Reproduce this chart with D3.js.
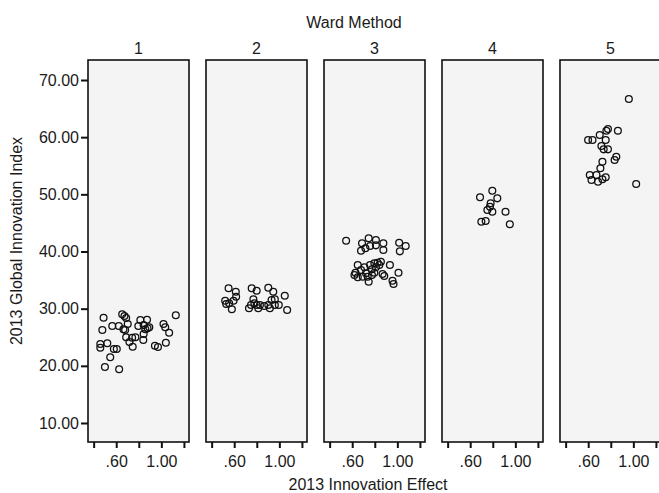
<!DOCTYPE html>
<html>
<head>
<meta charset="utf-8">
<script src="https://cdnjs.cloudflare.com/ajax/libs/d3/7.8.5/d3.min.js"></script>
<style>
  body { margin: 0; background: #fff; }
  text { font-family: "Liberation Sans", Arial, sans-serif; fill: #1a1a1a; }
</style>
</head>
<body>
<div id="scatter"></div>
<script>
// ward method clusters (facet labels)
var wardLabels = ["1", "2", "3", "4", "5"];

// [2013 Innovation Effect, 2013 Global Innovation Index] per cluster
var ward1 = [
  [0.488, 28.42], [0.477, 26.27], [0.459, 23.82], [0.459, 23.17], [0.521, 23.94],
  [0.565, 26.97], [0.547, 21.49], [0.500, 19.80], [0.579, 22.94], [0.605, 22.94],
  [0.626, 19.39], [0.623, 26.97], [0.653, 29.01], [0.673, 28.72], [0.688, 28.37],
  [0.702, 27.32], [0.664, 26.39], [0.679, 26.27], [0.688, 24.99], [0.717, 24.17],
  [0.746, 23.35], [0.741, 24.92], [0.770, 24.99], [0.796, 26.97], [0.814, 28.02],
  [0.843, 27.14], [0.873, 28.07], [0.858, 26.39], [0.878, 26.56], [0.893, 26.74],
  [0.843, 25.57], [0.840, 24.52], [0.943, 23.52], [0.970, 23.29], [1.019, 27.32],
  [1.034, 26.74], [1.069, 25.79], [1.040, 24.05], [1.128, 28.84]
];
var ward2 = [
  [0.550, 33.56], [0.614, 32.97], [0.617, 32.09], [0.520, 31.39], [0.529, 30.82],
  [0.555, 30.94], [0.594, 31.39], [0.579, 29.89], [0.755, 33.56], [0.799, 33.14],
  [0.770, 31.64], [0.779, 30.94], [0.749, 30.64], [0.731, 30.06], [0.799, 30.64],
  [0.828, 30.64], [0.813, 30.06], [0.902, 33.67], [0.946, 32.97], [0.960, 31.64],
  [0.931, 31.52], [0.902, 30.64], [0.916, 30.06], [0.995, 30.64], [0.960, 30.64],
  [1.048, 32.27], [1.069, 29.77], [0.866, 30.47]
];
var ward3 = [
  [0.546, 41.89], [0.687, 41.43], [0.678, 40.14], [0.717, 40.56], [0.746, 42.31],
  [0.758, 40.96], [0.810, 42.01], [0.810, 41.08], [0.876, 41.43], [0.876, 40.26],
  [1.016, 41.54], [1.074, 40.96], [1.022, 40.03], [0.649, 37.64], [0.629, 36.29],
  [0.620, 35.89], [0.649, 35.49], [0.678, 36.76], [0.708, 37.24], [0.722, 36.19],
  [0.693, 35.59], [0.746, 34.72], [0.758, 37.64], [0.775, 36.88], [0.796, 37.93],
  [0.810, 37.24], [0.825, 38.04], [0.854, 38.21], [0.840, 37.64], [0.796, 36.29],
  [0.775, 35.89], [0.869, 36.06], [0.884, 35.71], [0.934, 37.64], [0.957, 34.89],
  [0.966, 34.31], [1.010, 36.29], [0.737, 35.59]
];
var ward4 = [
  [0.796, 50.63], [0.687, 49.48], [0.840, 49.30], [0.781, 48.43], [0.775, 47.83],
  [0.752, 47.26], [0.796, 46.96], [0.913, 46.96], [0.699, 45.21], [0.737, 45.33],
  [0.951, 44.76]
];
var ward5 = [
  [0.960, 66.67], [0.863, 61.12], [0.775, 61.43], [0.761, 61.13], [0.702, 60.38],
  [0.599, 59.50], [0.638, 59.50], [0.755, 59.50], [0.717, 58.45], [0.737, 57.87],
  [0.775, 57.87], [0.849, 56.58], [0.834, 56.00], [0.726, 55.71], [0.708, 54.55],
  [0.614, 53.38], [0.629, 52.50], [0.673, 53.38], [0.687, 52.21], [0.755, 52.98],
  [0.726, 52.63], [1.025, 51.81]
];

// tick values
var xTicks = [0.4, 0.6, 0.8, 1.0, 1.2];
var xTickLabels = ["", ".60", "", "1.00", ""];
var yTicks = [10, 20, 30, 40, 50, 60, 70];

var clusters = [ward1, ward2, ward3, ward4, ward5];

var svgWidth = 659;
var svgHeight = 493;

// panel area
var panelTop = 60;
var panelBottom = 442;

var svg = d3.select("#scatter")
  .append("svg")
  .attr("width", svgWidth)
  .attr("height", svgHeight);

// one band per cluster
var facetScale = d3.scaleBand()
  .domain(wardLabels)
  .range([88, 661])
  .paddingInner(0.144);

var yScale = d3.scaleLinear()
  .domain([10, 70])
  .range([423, 80]);

// titles
svg.append("text")
  .attr("x", 354)
  .attr("y", 28)
  .attr("text-anchor", "middle")
  .style("font-size", "16px")
  .text("Ward Method");

svg.append("text")
  .attr("x", 368)
  .attr("y", 490)
  .attr("text-anchor", "middle")
  .style("font-size", "16px")
  .text("2013 Innovation Effect");

svg.append("text")
  .attr("transform", "translate(22, 241) rotate(-90)")
  .attr("text-anchor", "middle")
  .style("font-size", "16px")
  .text("2013 Global Innovation Index");

// y axis on the first panel
var yAxis = d3.axisLeft(yScale)
  .tickValues(yTicks)
  .tickFormat(d3.format(".2f"))
  .tickSize(7)
  .tickPadding(2);

var yAxisGroup = svg.append("g")
  .attr("transform", `translate(${facetScale("1")}, 0)`)
  .call(yAxis);

yAxisGroup.select(".domain").remove();
yAxisGroup.selectAll("line").attr("stroke", "#111").attr("stroke-width", 2);
yAxisGroup.selectAll("text").style("font-size", "16px").attr("fill", "#1a1a1a");

// draw each panel
wardLabels.forEach(function(label, i) {
  var left = facetScale(label);
  var panel = svg.append("g");

  var xScale = d3.scaleLinear()
    .domain([0.35, 1.245])
    .range([left, left + facetScale.bandwidth()]);

  panel.append("rect")
    .attr("x", left)
    .attr("y", panelTop)
    .attr("width", facetScale.bandwidth())
    .attr("height", panelBottom - panelTop)
    .attr("fill", "#f4f4f4")
    .attr("stroke", "#111")
    .attr("stroke-width", 1.6);

  // facet label
  panel.append("text")
    .attr("x", left + facetScale.bandwidth() / 2)
    .attr("y", 54)
    .attr("text-anchor", "middle")
    .style("font-size", "16px")
    .text(label);

  var xAxis = d3.axisBottom(xScale)
    .tickValues(xTicks)
    .tickFormat(function(d, j) { return xTickLabels[j]; })
    .tickSize(6)
    .tickPadding(8);

  var xAxisGroup = panel.append("g")
    .attr("transform", `translate(0, ${panelBottom})`)
    .call(xAxis);

  xAxisGroup.select(".domain").remove();
  xAxisGroup.selectAll("line").attr("stroke", "#111").attr("stroke-width", 2);
  xAxisGroup.selectAll("text").style("font-size", "16px").attr("fill", "#1a1a1a");

  // points
  panel.selectAll("circle")
    .data(clusters[i])
    .enter()
    .append("circle")
    .attr("cx", d => xScale(d[0]))
    .attr("cy", d => yScale(d[1]))
    .attr("r", 3.4)
    .attr("fill", "none")
    .attr("stroke", "#111")
    .attr("stroke-width", 1.3);
});
</script>
</body>
</html>
